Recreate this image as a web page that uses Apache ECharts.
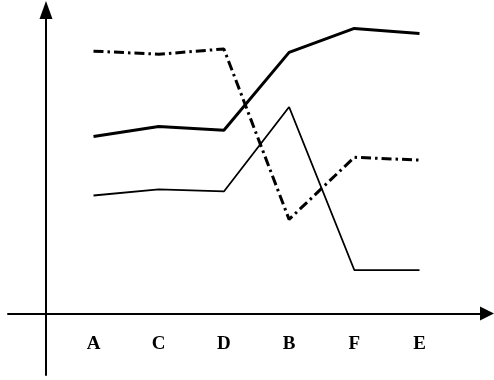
<!DOCTYPE html>
<html>
<head>
<meta charset="utf-8">
<style>
  html, body { margin: 0; padding: 0; background: #ffffff; }
  #chart { width: 494px; height: 380px; }
</style>
<script src="https://cdn.jsdelivr.net/npm/echarts@6/dist/echarts.min.js"></script>
</head>
<body>
<div id="chart"></div>
<script>
// Categories along the horizontal axis (in the order shown)
const categories = ['A', 'C', 'D', 'B', 'F', 'E'];
// Thick solid line
const thickSolid = [57.0, 60.2, 59.0, 84.1, 91.8, 90.2];
// Thick dash-dot line
const dashDot = [84.5, 83.5, 85.2, 30.3, 50.3, 49.4];
// Thin solid line
const thinSolid = [38.0, 40.0, 39.3, 66.5, 14.0, 14.0];

const chart = echarts.init(document.getElementById('chart'), null, { renderer: 'canvas' });

const hiddenAxisBits = {
  axisTick: { show: false },
  axisLabel: { show: false },
  splitLine: { show: false }
};

const option = {
  backgroundColor: '#ffffff',
  animation: false,
  grid: [
    // decorative axes (cross with arrows)
    { left: 8, right: 7, top: 10, bottom: 5 },
    // data area
    { left: 60.9, right: 41.9, top: 3, bottom: 66.5 }
  ],
  xAxis: [
    Object.assign({
      gridIndex: 0, type: 'value', min: -38, max: 441,
      axisLine: { show: true, onZero: true, symbol: ['none', 'triangle'], symbolSize: [14, 14],
        lineStyle: { color: '#000', width: 2 } }
    }, hiddenAxisBits),
    {
      gridIndex: 1, type: 'category', data: categories, boundaryGap: true,
      axisLine: { show: false }, axisTick: { show: false }, splitLine: { show: false },
      axisLabel: { show: true, margin: 21, color: '#000', fontFamily: 'Liberation Serif',
        fontWeight: 'bold', fontSize: 19 }
    }
  ],
  yAxis: [
    Object.assign({
      gridIndex: 0, type: 'value', min: -61.5, max: 303.5,
      axisLine: { show: true, onZero: true, symbol: ['none', 'triangle'], symbolSize: [13, 18],
        lineStyle: { color: '#000', width: 2 } }
    }, hiddenAxisBits),
    Object.assign({
      gridIndex: 1, type: 'value', min: 0, max: 100,
      axisLine: { show: false }
    }, hiddenAxisBits)
  ],
  series: [
    {
      type: 'line', xAxisIndex: 1, yAxisIndex: 1, data: thickSolid,
      symbol: 'none', lineStyle: { color: '#000', width: 3, type: 'solid' }
    },
    {
      type: 'line', xAxisIndex: 1, yAxisIndex: 1, data: dashDot,
      symbol: 'none', lineStyle: { color: '#000', width: 3, type: [10, 4, 2.5, 4] }
    },
    {
      type: 'line', xAxisIndex: 1, yAxisIndex: 1, data: thinSolid,
      symbol: 'none', lineStyle: { color: '#000', width: 1.8, type: 'solid' }
    }
  ]
};

chart.setOption(option);
</script>
</body>
</html>
